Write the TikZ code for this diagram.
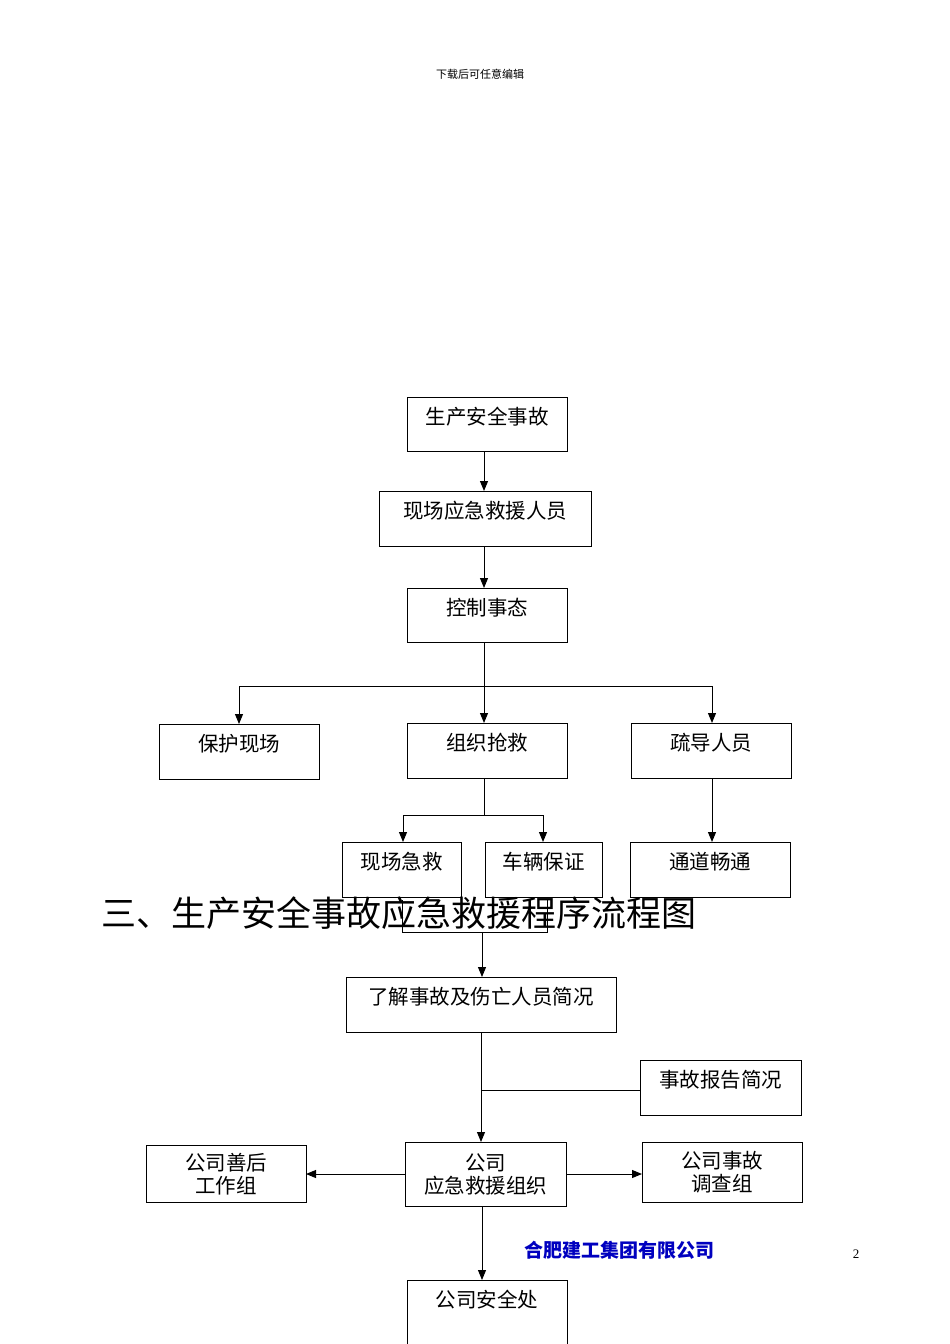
\documentclass[tikz,border=0pt]{standalone}
\usepackage{fontspec}
\setmainfont{Liberation Serif}
\newfontfamily\cjk{Noto Sans CJK SC}
\usetikzlibrary{arrows.meta}
\begin{document}
\begin{tikzpicture}[x=1pt,y=-1pt,
  bx/.style={draw,line width=1pt},
  lb/.style={font=\cjk\fontsize{20.5}{23}\selectfont,align=center,inner sep=0},
  ar/.style={-{Triangle[length=10pt,width=8pt]},line width=1pt},
  ln/.style={line width=1pt}]
\useasboundingbox (0,0) rectangle (950,1344);
\node[font=\cjk\fontsize{11}{13}\selectfont] (hdr) at (480,74) {下载后可任意编辑};
\newcommand\bxx[6]{\draw[bx] (#2,#4) rectangle (#3,#5);
  \node[lb] (#1l) at ({(#2+#3)/2},{#4+20}) {#6};}
\bxx{a}{407}{567}{397}{451}{生产安全事故}
\bxx{b}{379}{591}{491}{546}{现场应急救援人员}
\bxx{c}{407}{567}{588}{642}{控制事态}
\bxx{d1}{159}{319}{724}{779}{保护现场}
\bxx{d2}{407}{567}{723}{778}{组织抢救}
\bxx{d3}{631}{791}{723}{778}{疏导人员}
\bxx{e1}{342}{461}{842}{897}{现场急救}
\bxx{e2}{485}{602}{842}{897}{车辆保证}
\bxx{e3}{630}{790}{842}{897}{通道畅通}
\bxx{f}{346}{616}{977}{1032}{了解事故及伤亡人员简况}
\bxx{g}{640}{801}{1060}{1115}{事故报告简况}
\draw[bx] (405,1142) rectangle (566,1206);
\node[lb] (hl) at (485.5,1174) {公司\\应急救援组织};
\draw[bx] (146,1145) rectangle (306,1202);
\node[lb] (il) at (226,1174) {公司善后\\工作组};
\draw[bx] (642,1142) rectangle (802,1202);
\node[lb] (jl) at (722,1172) {公司事故\\调查组};
\bxx{k}{407}{567}{1280}{1344}{公司安全处}
\draw[ln] (402,900) -- (402,932) -- (547,932) -- (547,900);
\coordinate (hid) at (482,932);
\draw[ar] (484,451) -- (484,491);
\draw[ar] (484,546) -- (484,588);
\draw[ar] (484,642) -- (484,723);
\draw[ln] (239,686) -- (712,686);
\draw[ar] (239,686) -- (239,724);
\draw[ar] (712,686) -- (712,723);
\draw[ln] (484,778) -- (484,815);
\draw[ln] (403,815) -- (543,815);
\draw[ar] (403,815) -- (403,842);
\draw[ar] (543,815) -- (543,842);
\draw[ar] (712,778) -- (712,842);
\draw[ar] (hid) -- (482,977);
\draw[ar] (481,1032) -- (481,1142);
\draw[ln] (640,1090) -- (481,1090);
\draw[ar] (405,1174) -- (306,1174);
\draw[ar] (566,1174) -- (642,1174);
\draw[ar] (482,1206) -- (482,1280);
\node[font=\cjk\fontsize{35}{37}\selectfont,anchor=base west,inner sep=0] (title) at (101,926) {三、生产安全事故应急救援程序流程图};
\node[font=\cjk\bfseries\fontsize{19}{21}\selectfont,text=blue!75!black,inner sep=0] (wm) at (619,1250) {合肥建工集团有限公司};
\node[font=\fontsize{13}{15}\selectfont] (pg) at (856,1254) {2};
\end{tikzpicture}
\end{document}
